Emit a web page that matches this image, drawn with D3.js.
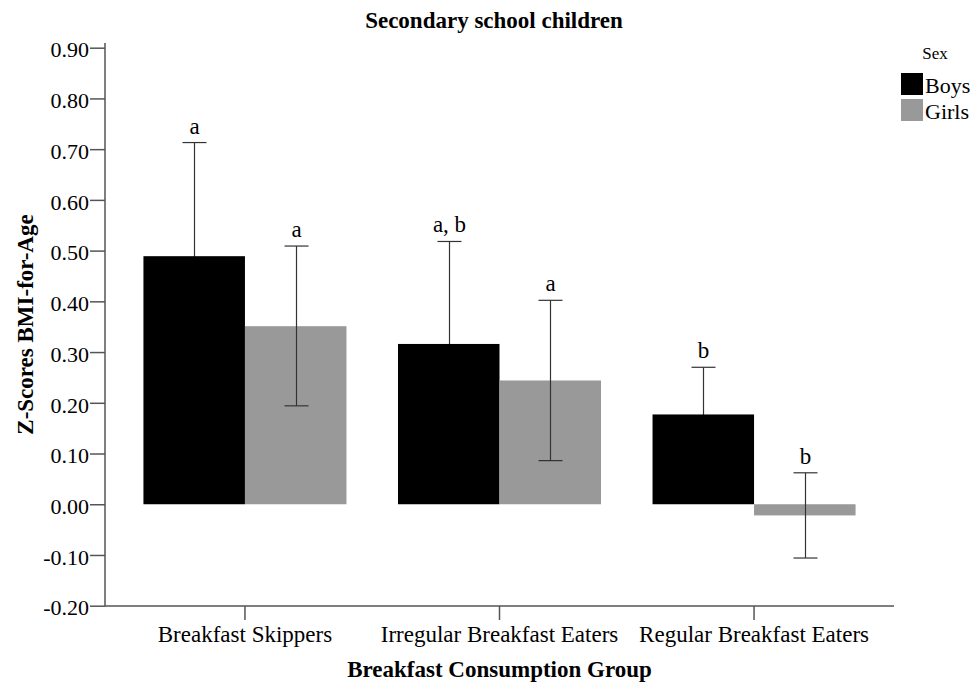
<!DOCTYPE html>
<html><head><meta charset="utf-8">
<script src="https://cdn.jsdelivr.net/npm/d3@7"></script>
<style>body{margin:0;background:#fff}svg{display:block}text{font-family:"Liberation Serif","Times New Roman",serif;fill:#000}</style>
</head><body>
<svg id="c" width="975" height="684"></svg>
<script>
const categories = ["Breakfast Skippers", "Irregular Breakfast Eaters", "Regular Breakfast Eaters"];
const seriesNames = ["Boys", "Girls"];
const boysMean = [0.489, 0.316, 0.177];
const boysLower = [0.265, 0.114, 0.084];
const boysUpper = [0.713, 0.518, 0.270];
const boysLetters = ["a", "a, b", "b"];
const girlsMean = [0.351, 0.244, -0.022];
const girlsLower = [0.194, 0.086, -0.106];
const girlsUpper = [0.509, 0.402, 0.062];
const girlsLetters = ["a", "a", "b"];
const yTicks = [-0.20, -0.10, 0.00, 0.10, 0.20, 0.30, 0.40, 0.50, 0.60, 0.70, 0.80, 0.90];
const colors = ["#000000", "#999999"];

const svg = d3.select("#c");
const mLeft = 105, mRight = 894, mTop = 43, mBottom = 606;
const y = d3.scaleLinear().domain([-0.20, 0.90]).range([605.7, 47.7]);
const x0 = d3.scaleBand().domain(categories).range([mLeft, mRight]).paddingInner(0.2024).paddingOuter(0.151);
const x1 = d3.scaleBand().domain(seriesNames).range([0, x0.bandwidth()]);

const rows = categories.map((c, i) => ({
  cat: c,
  vals: [
    {s: "Boys", m: boysMean[i], lo: boysLower[i], hi: boysUpper[i], lab: boysLetters[i]},
    {s: "Girls", m: girlsMean[i], lo: girlsLower[i], hi: girlsUpper[i], lab: girlsLetters[i]}
  ]
}));

const gBelow = svg.append("g");
const gBars = svg.append("g");
const gAbove = svg.append("g");

function errorBar(parent, v, cx, color) {
  const eg = parent.append("g").attr("stroke", color).attr("stroke-width", 1.2);
  eg.append("line").attr("x1", cx).attr("x2", cx).attr("y1", y(v.lo)).attr("y2", y(v.hi));
  [v.lo, v.hi].forEach(e => eg.append("line").attr("x1", cx - 12).attr("x2", cx + 12).attr("y1", y(e)).attr("y2", y(e)));
}

rows.forEach(r => {
  r.vals.forEach((v, j) => {
    const xb = x0(r.cat) + x1(v.s);
    gBars.append("rect").attr("x", xb).attr("width", x1.bandwidth())
      .attr("y", y(Math.max(0, v.m))).attr("height", Math.abs(y(v.m) - y(0)))
      .attr("fill", colors[j]);
    const cx = Math.round(xb + x1.bandwidth() / 2) + 0.5;
    errorBar(j === 0 ? gBelow : gAbove, v, cx, "#333");
    gAbove.append("text").attr("x", cx).attr("y", y(v.hi) - 9).attr("text-anchor", "middle")
      .style("font-size", "23px").text(v.lab);
  });
});

const fmt = d3.format(".2f");
const yAxis = d3.axisLeft(y).tickValues(yTicks).tickFormat(d => fmt(d).replace("\u2212", "-")).tickSize(15).tickSizeOuter(0);
const ya = svg.append("g").attr("transform", `translate(${mLeft},0)`).call(yAxis);
ya.select(".domain").attr("d", `M0,${mTop}V${mBottom}`);
ya.selectAll("line, .domain").attr("stroke", "#555").attr("stroke-width", 1.5);
ya.selectAll("text").style("font-size", "22px").attr("x", -16).attr("dy", "0.42em");

const xAxis = d3.axisBottom(x0).tickSize(14).tickSizeOuter(0);
const xa = svg.append("g").attr("transform", `translate(0,${mBottom})`).call(xAxis);
xa.select(".domain").attr("d", `M${mLeft},0H${mRight}`);
xa.selectAll("line, .domain").attr("stroke", "#555").attr("stroke-width", 1.5);
xa.selectAll("text").style("font-size", "23px").attr("y", 20).attr("dy", "0.71em");

svg.append("text").attr("x", 494).attr("y", 28).attr("text-anchor", "middle")
  .style("font-size", "23px").style("font-weight", "bold").text("Secondary school children");
svg.append("text").attr("x", (mLeft + mRight) / 2).attr("y", 677).attr("text-anchor", "middle")
  .style("font-size", "23px").style("font-weight", "bold").text("Breakfast Consumption Group");
svg.append("text").attr("transform", `translate(33,${(mTop + mBottom) / 2}) rotate(-90)`).attr("text-anchor", "middle")
  .style("font-size", "23px").style("font-weight", "bold").text("Z-Scores BMI-for-Age");

const lg = svg.append("g");
lg.append("text").attr("x", 935).attr("y", 59).attr("text-anchor", "middle").style("font-size", "17px").text("Sex");
seriesNames.forEach((s, i) => {
  lg.append("rect").attr("x", 901).attr("y", 73 + i * 26).attr("width", 22).attr("height", 22).attr("fill", colors[i]);
  lg.append("text").attr("x", 925).attr("y", 93 + i * 26).style("font-size", "22px").text(s);
});
</script>
</body></html>
